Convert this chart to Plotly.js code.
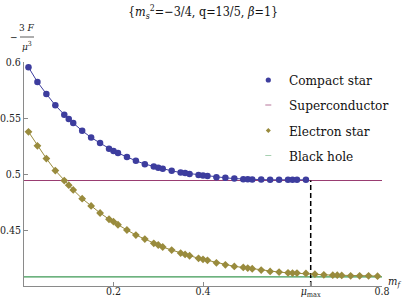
<!DOCTYPE html>
<html>
<head>
<meta charset="utf-8">
<script src="https://cdn.plot.ly/plotly-3.0.1.min.js"></script>
<style>html,body{margin:0;padding:0;background:#fff;}#plot{width:407px;height:304px;}</style>
</head>
<body>
<div id="plot"></div>
<script>
// ---- data ----
const compactX = [0.01,0.03,0.05,0.07,0.09,0.10,0.11,0.13,0.15,0.17,0.19,0.20,0.21,0.23,0.25,0.27,0.29,0.30,0.31,0.33,0.35,0.36,0.37,0.39,0.40,0.41,0.43,0.45,0.47,0.49,0.50,0.51,0.53,0.55,0.57,0.59,0.60,0.61,0.63];
const compactY = [0.5953,0.5822,0.5715,0.5613,0.5530,0.5491,0.5455,0.5386,0.5326,0.5276,0.5225,0.5205,0.5187,0.5151,0.5118,0.5088,0.5067,0.5055,0.5046,0.5028,0.5013,0.5008,0.5001,0.4990,0.4986,0.4983,0.4972,0.4966,0.4959,0.4954,0.4954,0.4950,0.4950,0.4948,0.4948,0.4948,0.4948,0.4948,0.4948];
const electronX = [0.01,0.03,0.05,0.07,0.09,0.10,0.11,0.13,0.15,0.17,0.19,0.20,0.21,0.23,0.25,0.27,0.29,0.30,0.31,0.33,0.35,0.36,0.37,0.39,0.40,0.41,0.43,0.45,0.47,0.49,0.50,0.51,0.53,0.55,0.57,0.59,0.60,0.61,0.63,0.65,0.67,0.69,0.70,0.71,0.73,0.75,0.77,0.79];
const electronY = [0.5377,0.5252,0.5138,0.5031,0.4941,0.4900,0.4858,0.4780,0.4715,0.4652,0.4596,0.4574,0.4547,0.4500,0.4455,0.4419,0.4381,0.4366,0.4348,0.4321,0.4294,0.4282,0.4270,0.4247,0.4238,0.4229,0.4207,0.4189,0.4175,0.4166,0.4160,0.4154,0.4142,0.4130,0.4124,0.4118,0.4115,0.4115,0.4112,0.4106,0.4100,0.4097,0.4097,0.4094,0.4091,0.4091,0.4091,0.4088];
const superconductorLevel = 0.4942;
const blackHoleLevel = 0.4082;
const muMax = 0.6407;
const xRange = [0, 0.8];
const yRange = [0.4, 0.6];
const xTickVals = [0.2, 0.4, muMax, 0.8];
const xTickText = ["0.2", "0.4", "<i>μ</i><sub>max</sub>", "0.8"];
const yTickVals = [0.45, 0.5, 0.55, 0.6];
const yTickText = ["0.45", "0.5", "0.55", "0.6"];
const legendNames = ["Compact star", "Superconductor", "Electron star", "Black hole"];

// ---- styles ----
const cBlue = "#3d3d9e", cMag = "#993d71", cOlive = "#998b3d", cGreen = "#3d9954";
const serif = "DejaVu Serif Condensed";

const traces = [
  {x: xRange, y: [superconductorLevel, superconductorLevel], mode: "lines", line: {color: cMag, width: 1.2}, hoverinfo: "skip"},
  {x: xRange, y: [blackHoleLevel, blackHoleLevel], mode: "lines", line: {color: cGreen, width: 1.2}, hoverinfo: "skip"},
  {x: [muMax, muMax], y: [yRange[0], superconductorLevel], mode: "lines", line: {color: "#000", width: 1.5, dash: "5px,3px"}},
  {x: electronX, y: electronY, mode: "lines+markers", line: {color: cOlive, width: 1}, marker: {symbol: "diamond", size: 6, color: cOlive}},
  {x: compactX, y: compactY, mode: "lines+markers", line: {color: cBlue, width: 1}, marker: {symbol: "circle", size: 6.5, color: cBlue}}
];

// plot area pixel geometry
const L = 24, R = 25, T = 62, B = 18, W = 407, H = 304;
const pw = W - L - R, ph = H - T - B;
const px = v => (v - L) / pw;          // pixel x -> paper
const py = v => (H - B - v) / ph;      // pixel y -> paper

const legendRowsPx = [80, 105, 130.5, 155.5];
const symX = 268.3, txtX = 286.5;

const annotations = [
  {xref: "paper", yref: "paper", x: px(26.5), y: py(27), text: "3 <i>F</i>", showarrow: false, font: {family: serif, size: 10, color: "#222"}, xanchor: "center", yanchor: "middle"},
  {xref: "paper", yref: "paper", x: px(27), y: py(46), text: "<i>μ</i><sup>3</sup>", showarrow: false, font: {family: serif, size: 10, color: "#222"}, xanchor: "center", yanchor: "middle"},
  {xref: "paper", yref: "paper", x: px(14), y: py(37), text: "−", showarrow: false, font: {family: serif, size: 10, color: "#222"}, xanchor: "center", yanchor: "middle"},
  {xref: "paper", yref: "paper", x: px(394), y: py(282), text: "<i>m<sub>f</sub></i>", showarrow: false, font: {family: serif, size: 11, color: "#222"}, xanchor: "center", yanchor: "middle"}
];
legendNames.forEach((n, i) => {
  annotations.push({xref: "paper", yref: "paper", x: px(txtX), y: py(legendRowsPx[i]), text: n, showarrow: false, xanchor: "left", yanchor: "middle", font: {family: serif, size: 13.5, color: "#111"}});
});

const r = 2.6;
const shapes = [
  {type: "line", xref: "paper", yref: "paper", x0: px(20), x1: px(34), y0: py(37), y1: py(37), line: {color: "#333", width: 0.8}},
  {type: "circle", xref: "paper", yref: "paper", x0: px(symX - r), x1: px(symX + r), y0: py(legendRowsPx[0] - r), y1: py(legendRowsPx[0] + r), fillcolor: cBlue, line: {width: 0}},
  {type: "line", xref: "paper", yref: "paper", x0: px(symX - 3), x1: px(symX + 3), y0: py(legendRowsPx[1]), y1: py(legendRowsPx[1]), line: {color: cMag, width: 1}, opacity: 0.7},
  {type: "path", xref: "paper", yref: "paper",
   path: `M ${px(symX-2.5)} ${py(legendRowsPx[2])} L ${px(symX)} ${py(legendRowsPx[2]-2.5)} L ${px(symX+2.5)} ${py(legendRowsPx[2])} L ${px(symX)} ${py(legendRowsPx[2]+2.5)} Z`,
   fillcolor: cOlive, line: {width: 0}},
  {type: "line", xref: "paper", yref: "paper", x0: px(symX - 3), x1: px(symX + 3), y0: py(legendRowsPx[3]), y1: py(legendRowsPx[3]), line: {color: cGreen, width: 1}, opacity: 0.45}
];

const axisCommon = {
  showgrid: false, zeroline: false, showline: true, linecolor: "#8a8a8a", linewidth: 1,
  ticks: "inside", ticklen: 4, tickwidth: 1, tickcolor: "#8a8a8a",
  tickfont: {family: serif, size: 10.5, color: "#222"}, fixedrange: true
};

const layout = {
  width: W, height: H,
  margin: {l: L, r: R, t: T, b: B, pad: 0},
  paper_bgcolor: "#fff", plot_bgcolor: "#fff",
  font: {family: serif},
  showlegend: false,
  title: {text: "{<i>m<sub>s</sub></i><sup>2</sup>=−3/4, q=13/5, <i>β</i>=1}", x: 0.499, xanchor: "center", y: 1 - 12/H, yanchor: "middle", font: {family: serif, size: 12.5, color: "#111"}},
  xaxis: Object.assign({}, axisCommon, {range: xRange, tickmode: "array", tickvals: xTickVals, ticktext: xTickText, ticklabelstandoff: -5}),
  yaxis: Object.assign({}, axisCommon, {range: yRange, tickmode: "array", tickvals: yTickVals, ticktext: yTickText}),
  annotations: annotations,
  shapes: shapes
};

Plotly.newPlot("plot", traces, layout, {displayModeBar: false, staticPlot: true});
</script>
</body>
</html>
